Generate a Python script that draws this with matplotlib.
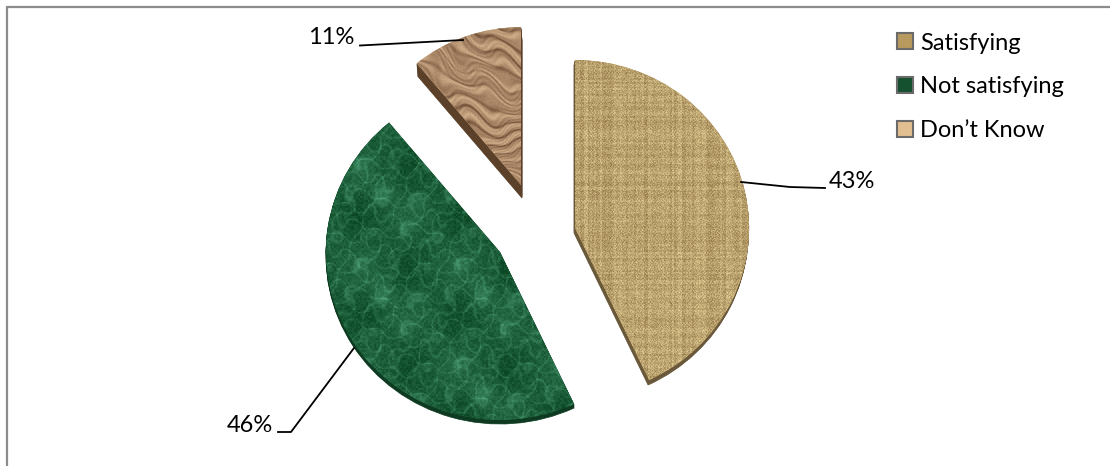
import numpy as np
import matplotlib
matplotlib.use("Agg")
import matplotlib.pyplot as plt
from matplotlib.patches import Patch, Wedge

plt.rcParams['font.family'] = ['Lato', 'DejaVu Sans']

W, H = 1110, 466

categories = ["Satisfying", "Not satisfying", "Don\u2019t Know"]
percent = [43, 46, 11]

# layout, all in pixels from the top left corner
apex = [(575, 228), (500, 252), (521, 185)]
radius = [1.0, 1.0, 0.94]
depth = [(-1, 5), (0, 4), (1, 13)]
side_colors = ["#6a583a", "#0d3a20", "#5b4129"]
swatch_colors = ["#b89a5e", "#15502f", "#e2bf90"]
leaders = [[(741, 182), (790, 187), (825, 188)],
           [(354, 348), (291, 432), (278, 432)],
           [(463, 40), (360, 45.5)]]
label_pos = [(829, 182), (273, 425), (354, 38)]
label_align = ["left", "right", "right"]
RX, RY = 174, 168


def grain(x, y, seed):
    v = np.sin(x * 12.9898 + y * 78.233 + seed) * 43758.5453
    return v - np.floor(v)


def mix(low, high, t):
    low = np.array(matplotlib.colors.to_rgb(low))
    high = np.array(matplotlib.colors.to_rgb(high))
    return low + (high - low) * np.clip(t, 0, 1)[..., None]


def burlap(x, y):
    # threads: each column and row gets its own brightness
    cols = grain(np.floor(x / 2), 0 * y, 1.0) - 0.5
    rows = grain(0 * x, np.floor(y / 2), 4.0) - 0.5
    weave = np.sin(x * 2 * np.pi / 3.2) * np.sin(y * 2 * np.pi / 3.6)
    t = 0.5 + 0.28 * cols + 0.22 * rows + 0.12 * weave + 0.5 * (grain(x, y, 1.0) - 0.5)
    return mix("#94794a", "#e4cf96", t)


def marble(x, y):
    # stock green marble fill: tile of about 100 pixels with bright spots
    tx = 2 * np.pi * x / 100
    ty = 2 * np.pi * y / 100
    a = np.sin(2 * tx + ty) + 0.6 * np.sin(3 * ty - tx) + 0.5 * np.sin(5 * tx + 2 * ty)
    b = np.sin(tx - 3 * ty + 1) + 0.7 * np.sin(4 * tx + ty + 2) + 0.4 * np.sin(6 * ty - 3 * tx)
    veins = 0.5 * np.exp(-14 * np.sin(a * 1.1) ** 2) + 0.5 * np.exp(-14 * np.sin(b * 1.1) ** 2)
    px = (x - 33) % 100 - 50
    py = (y - 43) % 100 - 50
    spots = np.exp(-(px ** 2 + py ** 2) / (2 * 7.0 ** 2))
    patches = np.sin(tx + 1) * np.sin(ty + 0.5)
    speck = grain(np.floor(x / 2), np.floor(y / 2), 2.0) - 0.5
    t = 0.2 + 0.42 * veins + 0.3 * spots + 0.12 * patches + 0.2 * speck
    return mix("#0b4724", "#58ad84", t)


def wood(x, y):
    warp = (10 * np.sin(x * 0.031 + y * 0.02) + 5 * np.sin(x * 0.083 + y * 0.05 + 1)
            + 2.5 * np.sin(x * 0.19 - y * 0.11))
    phase = (y + warp - x * 0.2) * 2 * np.pi / 15
    ridges = np.sin(phase)
    cracks = np.exp(-10 * np.sin(phase / 1.7 + 0.4 * np.sin(x * 0.07)) ** 2)
    fine = np.sin((y + 1.6 * warp) * 2 * np.pi / 5.5)
    t = 0.6 + 0.18 * ridges - 0.42 * cracks + 0.1 * fine + 0.12 * (grain(x, y, 3.0) - 0.5)
    return mix("#75533a", "#dbb892", t)


textures = [burlap, marble, wood]

fig = plt.figure(figsize=(W / 100, H / 100), dpi=100, facecolor="white")

# pie axes: one data unit is RX pixels across and RY pixels down
pie_ax = fig.add_axes([0, 0, 1, 1])
wedges, _ = pie_ax.pie(percent, startangle=-90, counterclock=True)
pie_ax.set_aspect("auto")

xx, yy = np.meshgrid(np.arange(W) + 0.5, np.arange(H) + 0.5)
for i, w in enumerate(wedges):
    cx, cy = apex[i]
    w.set_center((cx / RX, cy / RY))
    w.set_radius(radius[i])
    w.set_facecolor(swatch_colors[i])
    w.set_zorder(2)
    # side of the slice: the same shape swept along the extrusion direction
    steps = max(abs(depth[i][0]), abs(depth[i][1]))
    for s in range(1, steps + 1):
        dx = depth[i][0] * s / steps
        dy = depth[i][1] * s / steps
        pie_ax.add_patch(Wedge(((cx + dx) / RX, (cy + dy) / RY), radius[i],
                               w.theta1, w.theta2, fc=side_colors[i],
                               ec=side_colors[i], lw=0.5, zorder=1))
    im = pie_ax.imshow(textures[i](xx, yy), extent=(0, W / RX, H / RY, 0),
                       aspect="auto", interpolation="bilinear", zorder=3)
    im.set_clip_path(w)

pie_ax.set_xlim(0, W / RX)
pie_ax.set_ylim(H / RY, 0)
pie_ax.axis("off")

# overlay in pixel coordinates for the frame, leaders and labels
ax = fig.add_axes([0, 0, 1, 1], facecolor="none")
ax.set_xlim(0, W)
ax.set_ylim(H, 0)
ax.axis("off")

ax.plot([7, 7, W], [H, 7, 7], color="#8c8c8c", lw=1.6, solid_joinstyle="miter")

for i in range(len(percent)):
    pts = np.array(leaders[i])
    ax.plot(pts[:, 0], pts[:, 1], color="black", lw=1.3)
    ax.text(label_pos[i][0], label_pos[i][1], f"{percent[i]}%", fontsize=17,
            ha=label_align[i], va="center", color="black")

handles = [Patch(facecolor=c, edgecolor="#6b6b6b", lw=1.5) for c in swatch_colors]
ax.legend(handles, categories, loc="upper left", bbox_to_anchor=(897 / W, 1 - 32.5 / H),
          frameon=False, fontsize=17, handlelength=0.68, handleheight=0.68,
          handletextpad=0.3, labelspacing=0.965, borderpad=0, borderaxespad=0)

fig.savefig("out.png", dpi=100, facecolor="white")
